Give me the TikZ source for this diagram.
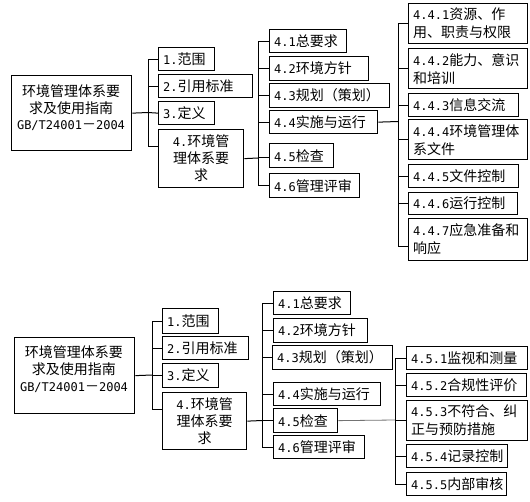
\documentclass[tikz,border=0pt]{standalone}
\usepackage{fontspec}
\newfontfamily\cjkf{Noto Sans CJK SC}
\newfontfamily\latf{DejaVu Sans Mono}
\newcommand\dg[1]{{\latf\fontsize{12}{18}\selectfont #1}}
\begin{document}
\begin{tikzpicture}[x=1pt,y=-1pt,
  bx/.style={draw=black, line width=1.3pt, inner xsep=4.5pt, inner ysep=0pt,
    anchor=north west, align=left, font=\cjkf\fontsize{14}{18}\selectfont},
  bc/.style={bx, align=center, font=\cjkf\fontsize{14}{17}\selectfont},
  mt/.style={inner sep=0pt, align=center, font=\cjkf\fontsize{14}{16.5}\selectfont},
  ln/.style={draw=black, line width=1pt},
  lg/.style={draw=black!55, line width=0.8pt}]
\useasboundingbox (0,0) rectangle (530,502);
\fill[white] (0,0) rectangle (530,502);

% ---------- top diagram ----------
\node[bx, minimum width=120pt, minimum height=75pt] (main) at (11,75) {};
\node[mt] (mainT) at (71,108) {环境管理体系要\\求及使用指南\\\dg{GB/T24001}－\dg{2004}};

\node[bx, text width=47pt, minimum height=23pt] (t1) at (158,47) {\dg{1.}范围};
\node[bx, text width=85pt, minimum height=23pt] (t2) at (158,74) {\dg{2.}引用标准};
\node[bx, text width=47pt, minimum height=23pt] (t3) at (158,101) {\dg{3.}定义};
\node[bc, text width=76pt, minimum height=58pt] (t4) at (158,129) {\dg{4.}环境管\\理体系要\\求};

\node[bx, text width=68pt, minimum height=23pt] (t41) at (269,29) {\dg{4.1}总要求};
\node[bx, text width=90pt, minimum height=24pt] (t42) at (269,56) {\dg{4.2}环境方针};
\node[bx, text width=111pt, minimum height=24pt] (t43) at (269,83) {\dg{4.3}规划（策划）};
\node[bx, text width=99pt, minimum height=23pt] (t44) at (269,110) {\dg{4.4}实施与运行};
\node[bx, text width=55pt, minimum height=24pt] (t45) at (269,143) {\dg{4.5}检查};
\node[bx, text width=81pt, minimum height=24pt] (t46) at (269,173) {\dg{4.6}管理评审};

\node[bx, text width=110pt, minimum height=40pt] (t441) at (408,3) {\dg{4.4.1}资源、作\\用、职责与权限};
\node[bx, text width=110pt, minimum height=40pt] (t442) at (408,48) {\dg{4.4.2}能力、意识\\和培训};
\node[bx, text width=101pt, minimum height=23pt] (t443) at (408,93) {\dg{4.4.3}信息交流};
\node[bx, text width=110pt, minimum height=40pt] (t444) at (408,119) {\dg{4.4.4}环境管理体\\系文件};
\node[bx, text width=101pt, minimum height=23pt] (t445) at (408,164) {\dg{4.4.5}文件控制};
\node[bx, text width=100pt, minimum height=22pt] (t446) at (408,192) {\dg{4.4.6}运行控制};
\node[bx, text width=110pt, minimum height=42pt] (t447) at (408,218) {\dg{4.4.7}应急准备和\\响应};

\coordinate (J1) at (148,112.5);
\coordinate (t4in) at (158,147);
\draw[ln] (main.east) -- (J1);
\draw[ln] (t1.west) -| (J1);
\draw[ln] (t2.west) -| (J1);
\draw[ln] (t3.west) -- (J1);
\draw[ln] (t4in) -| (J1);

\coordinate (J2) at (258,158);
\draw[ln] (t4.east) -- (J2);
\draw[ln] (t41.west) -| (J2);
\draw[ln] (t42.west) -| (J2);
\draw[ln] (t43.west) -| (J2);
\draw[ln] (t44.west) -| (J2);
\draw[ln] (t45.west |- J2) -- (J2);
\draw[ln] (t46.west) -| (J2);

\coordinate (J3) at (398,121.5);
\coordinate (t447in) at (408,247);
\draw[ln] (t44.east) -- (J3);
\draw[ln] (t441.west) -| (J3);
\draw[ln] (t442.west) -| (J3);
\draw[ln] (t443.west) -| (J3);
\draw[ln] (t444.west) -| (J3);
\draw[ln] (t445.west) -| (J3);
\draw[ln] (t446.west) -| (J3);
\draw[ln] (t447in) -| (J3);

% ---------- bottom diagram ----------
\node[bx, minimum width=120pt, minimum height=76pt] (main2) at (14,337) {};
\node[mt, font=\cjkf\fontsize{14}{17}\selectfont] (main2T) at (74,369) {环境管理体系要\\求及使用指南\\\dg{GB/T24001}－\dg{2004}};

\node[bx, text width=47pt, minimum height=25pt] (b1) at (162,308) {\dg{1.}范围};
\node[bx, text width=77pt, minimum height=23pt] (b2) at (162,336) {\dg{2.}引用标准};
\node[bx, text width=47pt, minimum height=24pt] (b3) at (162,363) {\dg{3.}定义};
\node[bc, text width=75pt, minimum height=57pt] (b4) at (162,392) {\dg{4.}环境管\\理体系要\\求};

\node[bx, text width=68pt, minimum height=23pt] (b41) at (273,291) {\dg{4.1}总要求};
\node[bx, text width=85pt, minimum height=24pt] (b42) at (273,318) {\dg{4.2}环境方针};
\node[bx, text width=111pt, minimum height=24pt] (b43) at (272,345) {\dg{4.3}规划（策划）};
\node[bx, text width=98pt, minimum height=23pt] (b44) at (273,382) {\dg{4.4}实施与运行};
\node[bx, text width=55pt, minimum height=24pt] (b45) at (273,408) {\dg{4.5}检查};
\node[bx, text width=82pt, minimum height=23pt] (b46) at (273,435) {\dg{4.6}管理评审};

\node[bx, text width=112pt, minimum height=23pt] (b451) at (406,346) {\dg{4.5.1}监视和测量};
\node[bx, text width=111pt, minimum height=23pt] (b452) at (406,373) {\dg{4.5.2}合规性评价};
\node[bx, text width=112pt, minimum height=40pt] (b453) at (406,400) {\dg{4.5.3}不符合、纠\\正与预防措施};
\node[bx, text width=92pt, minimum height=23pt] (b454) at (406,444) {\dg{4.5.4}记录控制};
\node[bx, text width=91pt, minimum height=23pt] (b455) at (406,472) {\dg{4.5.5}内部审核};

\coordinate (J4) at (152,375);
\coordinate (b4in) at (162,409);
\draw[ln] (main2.east) -- (J4);
\draw[ln] (b1.west) -| (J4);
\draw[ln] (b2.west) -| (J4);
\draw[ln] (b3.west) -| (J4);
\draw[ln] (b4in) -| (J4);

\coordinate (J5) at (262,420.5);
\draw[ln] (b4.east) -- (J5);
\draw[ln] (b41.west) -| (J5);
\draw[ln] (b42.west) -| (J5);
\draw[ln] (b43.west) -| (J5);
\draw[ln] (b44.west) -| (J5);
\draw[ln] (b45.west) -| (J5);
\draw[ln] (b46.west) -| (J5);

\coordinate (J6) at (395,420);
\draw[lg] (b45.east) -- (J6);
\draw[ln] (b451.west) -| (J6);
\draw[ln] (b452.west) -| (J6);
\draw[ln] (b453.west) -| (J6);
\draw[ln] (b454.west) -| (J6);
\draw[ln] (b455.west) -| (J6);
\end{tikzpicture}
\end{document}
